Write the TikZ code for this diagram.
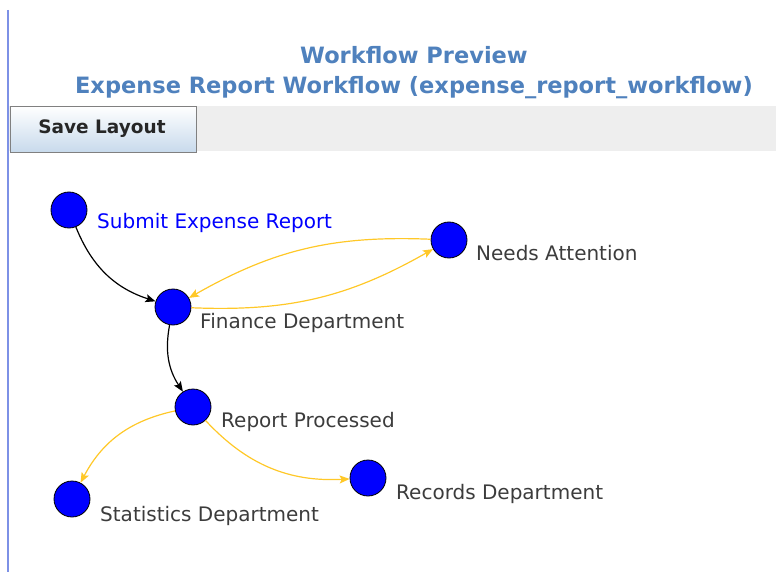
\documentclass[tikz,border=0pt]{standalone}
\usepackage{fontspec}
\setmainfont{DejaVu Sans}
\usepackage{tikz}
\usetikzlibrary{arrows.meta,positioning}
\definecolor{titleblue}{RGB}{79,129,189}
\definecolor{edgegold}{RGB}{255,200,40}
\definecolor{labelgray}{RGB}{60,60,60}
\definecolor{bandgray}{RGB}{238,238,238}
\definecolor{framelilac}{RGB}{125,145,230}
\definecolor{buttonblue}{RGB}{200,218,236}

\begin{document}
\begin{tikzpicture}[
    x=1pt, y=1pt,
    state/.style={circle, draw=black, fill=blue, minimum size=36pt, inner sep=0pt, line width=0.8pt},
    lbl/.style={anchor=base west, inner sep=0pt, font=\fontsize{20}{20}\selectfont, text=labelgray},
    heading/.style={font=\fontsize{22.5}{22.5}\selectfont\bfseries, text=titleblue},
    flow/.style={->, line width=1.2pt, bend right=25},
    >={Stealth[length=10pt, width=8pt, inset=2pt]}
]
\useasboundingbox (0,0) rectangle (776,-572);

% Frame and header
\draw[framelilac, line width=1.8pt] (8,-10) -- (8,-572);
\node[heading] (title) at (414,-55) {Workflow Preview};
\node[heading] (subtitle) at (414,-88) {Expense Report Workflow (expense\_report\_workflow)};
\fill[bandgray] (9,-106) rectangle (776,-151);
\shade[top color=white, bottom color=buttonblue, draw=gray] (10,-106) rectangle (196,-152);
\node[font=\fontsize{18.5}{18.5}\selectfont\bfseries, text=black!85] (save) at (102,-129) {Save Layout};

% States
\node[state] (submit) at (69,-210) {};
\node[state] (needs) at (449,-240) {};
\node[state] (finance) at (173,-307) {};
\node[state] (processed) at (193,-407) {};
\node[state] (stats) at (72,-499) {};
\node[state] (records) at (368,-478) {};

\node[lbl, text=blue] at (97,-229) {Submit Expense Report};
\node[lbl] at (476,-260) {Needs Attention};
\node[lbl] at (200,-328) {Finance Department};
\node[lbl] at (221,-427) {Report Processed};
\node[lbl] at (100,-521) {Statistics Department};
\node[lbl] at (396,-499) {Records Department};

% Transitions
\draw[flow, black] (submit) to (finance);
\draw[flow, black, bend right=22] (finance) to (processed);
\draw[flow, edgegold, bend right=16] (finance) to (needs);
\draw[flow, edgegold, bend right=16] (needs) to (finance);
\draw[flow, edgegold] (processed) to (stats);
\draw[flow, edgegold] (processed) to (records);

\end{tikzpicture}
\end{document}
